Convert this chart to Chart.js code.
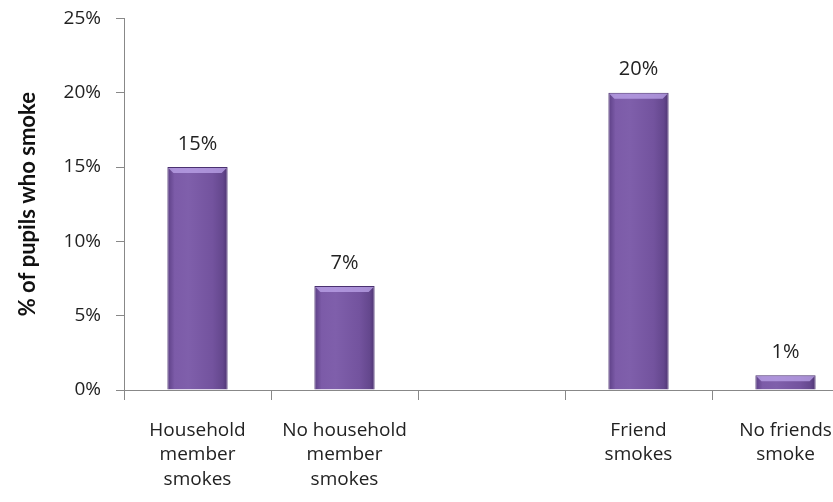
<!DOCTYPE html>
<html>
<head>
<meta charset="utf-8">
<script src="https://cdn.jsdelivr.net/npm/chart.js@4.4.1/dist/chart.umd.min.js"></script>
<style>
  html, body { margin: 0; padding: 0; background: #fff; overflow: hidden; }
  #wrap { width: 860px; height: 510px; margin-top: -8px; }
</style>
</head>
<body>
<div id="wrap"><canvas id="smokeChart" width="860" height="510"></canvas></div>
<script>
// カテゴリ（中央は空き列）
const categories = [
    ['Household', 'member', 'smokes'],
    ['No household', 'member', 'smokes'],
    '',
    ['Friend', 'smokes'],
    ['No friends', 'smoke']
];
// 喫煙する生徒の割合 (%)
const smokeRates = [15, 7, null, 20, 1];
const yTicks = [0, 5, 10, 15, 20, 25];

const labelFont = '"Open Sans", Lato, sans-serif';
const titleFont = 'Lato, "Open Sans", sans-serif';

// 棒の横グラデーション（円柱っぽく）
function barGradient(context) {
    const chart = context.chart;
    const xs = chart.scales.x;
    if (!xs || !xs.width || context.dataIndex === undefined) return '#7a58a6';
    const center = xs.getPixelForValue(context.dataIndex);
    const half = (xs.width / categories.length) * 0.41 / 2;
    if (!isFinite(center) || !isFinite(half)) return '#7a58a6';
    const g = chart.ctx.createLinearGradient(center - half, 0, center + half, 0);
    g.addColorStop(0, '#5c3f85');
    g.addColorStop(0.12, '#7c5ba8');
    g.addColorStop(0.35, '#7f5fab');
    g.addColorStop(0.75, '#73539e');
    g.addColorStop(0.92, '#64478d');
    g.addColorStop(1, '#4e3472');
    return g;
}

// 棒の上端のハイライトと値ラベル
const bevelAndLabels = {
    id: 'bevelAndLabels',
    afterDatasetsDraw(chart) {
        const ctx = chart.ctx;
        const meta = chart.getDatasetMeta(0);
        meta.data.forEach((bar, i) => {
            const v = smokeRates[i];
            if (v === null) return;
            const left = bar.x - bar.width / 2;
            const right = bar.x + bar.width / 2;
            const top = bar.y;
            const bevel = 6;
            ctx.save();
            ctx.fillStyle = 'rgba(190, 165, 235, 0.75)';
            ctx.beginPath();
            ctx.moveTo(left + 1, top + 1);
            ctx.lineTo(right - 1, top + 1);
            ctx.lineTo(right - bevel, top + bevel);
            ctx.lineTo(left + bevel, top + bevel);
            ctx.closePath();
            ctx.fill();
            ctx.fillStyle = '#222';
            ctx.font = '20px ' + labelFont;
            ctx.textAlign = 'center';
            ctx.textBaseline = 'bottom';
            ctx.fillText(v + '%', bar.x, top - 13);
            ctx.restore();
        });
    }
};

const ctx = document.getElementById('smokeChart').getContext('2d');
new Chart(ctx, {
    type: 'bar',
    data: {
        labels: categories,
        datasets: [{
            data: smokeRates,
            backgroundColor: barGradient,
            borderColor: '#4a3170',
            borderWidth: 1,
            borderSkipped: 'bottom',
            categoryPercentage: 1,
            barPercentage: 0.41
        }]
    },
    options: {
        responsive: false,
        animation: false,
        layout: { padding: { left: 0, right: 1, top: 0, bottom: 0 } },
        plugins: {
            legend: { display: false },
            tooltip: { enabled: false }
        },
        scales: {
            x: {
                grid: {
                    display: true,
                    drawOnChartArea: false,
                    offset: true,
                    tickLength: 10,
                    color: '#888'
                },
                border: { color: '#888' },
                ticks: {
                    color: '#222',
                    font: { family: labelFont, size: 19, lineHeight: 1.3 },
                    maxRotation: 0,
                    autoSkip: false,
                    padding: 18
                },
                afterFit: scale => { scale.height = 112; }
            },
            y: {
                min: 0,
                max: 25,
                afterBuildTicks: scale => { scale.ticks = yTicks.map(v => ({ value: v })); },
                grid: {
                    drawOnChartArea: false,
                    tickLength: 8,
                    color: '#888'
                },
                border: { color: '#888' },
                ticks: {
                    color: '#222',
                    font: { family: labelFont, size: 19 },
                    padding: 15,
                    callback: v => v + '%'
                },
                title: {
                    display: true,
                    text: '% of pupils who smoke',
                    color: '#111',
                    font: { family: titleFont, size: 22, weight: 'bold' },
                    padding: { top: 15, bottom: 0 }
                },
                afterFit: scale => { scale.width = 124; }
            }
        }
    },
    plugins: [bevelAndLabels]
});
</script>
</body>
</html>
